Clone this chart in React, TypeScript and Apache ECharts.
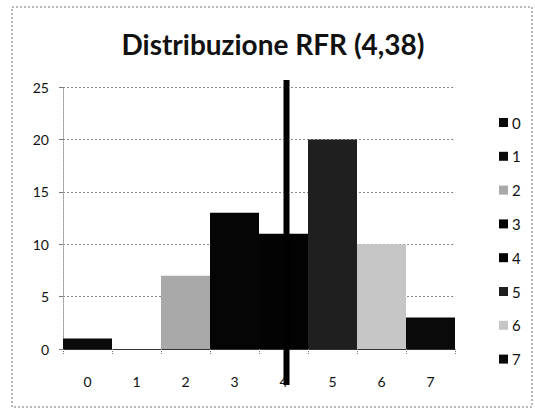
import React, { useEffect, useRef } from "react";
import * as echarts from "echarts";

const categories = ["0", "1", "2", "3", "4", "5", "6", "7"];
const counts = [1, 0, 7, 13, 11, 20, 10, 3];
const seriesColors = ["#0a0a0a", "#0a0a0a", "#a9a9a9", "#050505", "#030303", "#1f1f1f", "#c6c6c6", "#0a0a0a"];
const yTicks = { min: 0, max: 25, interval: 5 };
const meanCategory = 4;
const titleText = "Distribuzione RFR (4,38)";

export default function App() {
  const ref = useRef<HTMLDivElement>(null);
  useEffect(() => {
    if (!ref.current) return;
    const chart = echarts.init(ref.current, undefined, { renderer: "svg" });
    const barSeries = categories.map((name, i) => ({
      name,
      type: "bar",
      stack: "all",
      barCategoryGap: "0%",
      data: counts.map((v, j) => (j === i ? v : "-")),
      itemStyle: { color: seriesColors[i] },
    }));
    const lineSeries = {
      type: "custom",
      name: "mean",
      clip: false,
      z: 10,
      data: [[meanCategory, yTicks.max]],
      encode: { x: 0, y: 1 },
      renderItem: (params: any, api: any) => {
        const top = api.coord([api.value(0), api.value(1)]);
        const bottom = api.coord([api.value(0), 0]);
        return {
          type: "line",
          shape: { x1: top[0] + 3, y1: top[1] - 7, x2: bottom[0] + 3, y2: bottom[1] + 36 },
          style: { stroke: "#000", lineWidth: 6 },
        };
      },
    };
    chart.setOption({
      animation: false,
      backgroundColor: "#fff",
      textStyle: { fontFamily: "Lato" },
      title: {
        text: titleText,
        left: 268,
        textAlign: "center",
        top: 25,
        textStyle: { fontFamily: "Lato", fontWeight: "bold", fontSize: 28, color: "#111" },
      },
      graphic: [
        {
          type: "rect",
          shape: { x: 12, y: 7, width: 520, height: 400 },
          style: { fill: "none", stroke: "#777", lineWidth: 1, lineDash: [2, 2] },
          silent: true,
        },
      ],
      legend: {
        orient: "vertical",
        left: 494,
        top: 110,
        itemWidth: 9,
        itemHeight: 9,
        itemGap: 18.8,
        icon: "rect",
        data: categories,
        textStyle: { fontFamily: "Lato", fontSize: 15, color: "#111", padding: [0, 0, 0, -1] },
      },
      grid: { left: 63, right: 80, top: 87, bottom: 61 },
      xAxis: {
        type: "category",
        data: categories,
        boundaryGap: true,
        axisLine: { lineStyle: { color: "#333", width: 1 } },
        axisTick: { show: true, length: 6, lineStyle: { color: "#777", type: "dotted" } },
        axisLabel: { fontFamily: "Lato", fontSize: 14, color: "#111", margin: 25 },
        splitLine: { show: false },
      },
      yAxis: {
        type: "value",
        min: yTicks.min,
        max: yTicks.max,
        interval: yTicks.interval,
        axisLine: { show: true, lineStyle: { color: "#999", type: "dotted" } },
        axisTick: { show: true, length: 4, lineStyle: { color: "#777" } },
        axisLabel: { fontFamily: "Lato", fontSize: 14, color: "#111", margin: 14 },
        splitLine: { show: true, lineStyle: { color: "#888", type: [2, 2] } },
      },
      series: [...barSeries, lineSeries],
    });
    return () => chart.dispose();
  }, []);
  return <div ref={ref} style={{ width: 535, height: 410, position: "absolute", left: 0, top: 0 }} />;
}
